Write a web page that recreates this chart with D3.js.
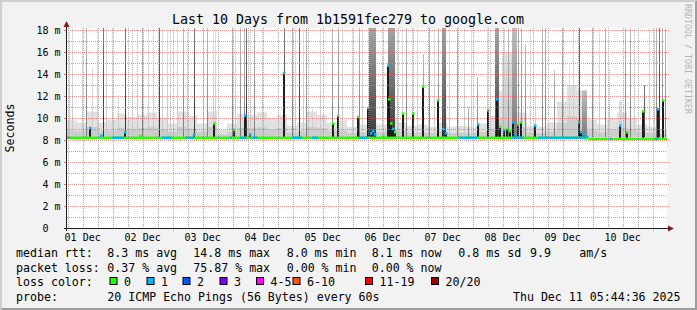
<!DOCTYPE html>
<html>
<head>
<meta charset="utf-8">
<script src="https://cdn.jsdelivr.net/npm/d3@7"></script>
<style>
body { margin: 0; background: #f2f2f2; }
svg { display: block; }
text { font-family: "DejaVu Sans Mono", monospace; fill: #000; }
</style>
</head>
<body>
<svg id="chart" width="697" height="310"></svg>
<script>
// all times are hours since the start of the graph (Dec 1 05:44:36)

// top of the light smoke haze, one value per 4 hour block (ms)
var hazeTop = [9.8, 9.6, 10.6, 9.6, 9.8, 10.4, 10.1, 10.3, 10.5, 10.0,
               9.5, 10.6, 10.2, 9.5, 10.6, 8.9, 9.5, 10.4, 10.3, 10.5,
               10.0, 10.3, 9.3, 9.6, 10.6, 10.3, 9.6, 9.8, 9.2, 9.4,
               9.6, 9.4, 10.0, 9.6, 9.3, 9.4, 9.2, 9.6, 9.2, 9.3,
               9.2, 9.5, 10.2, 12.5, 14.5, 10.5, 9.3, 9.2, 9.6, 11.5,
               13.0, 12.5, 9.8, 9.4, 10.0, 10.5, 10.0, 9.4, 9.2, 9.0];

// single smoke streaks: [hour, top ms, shade 1 light / 2 mid / 3 dark]
var smokeLines = [
  [0.7, 18.2, 1], [2.0, 18.2, 1], [5.9, 18.2, 1], [7.6, 18.2, 2], [10.0, 14.6, 1],
  [12.0, 18.2, 1], [14.2, 18.2, 3], [15.6, 18.2, 1], [18.0, 18.2, 1], [20.4, 12.0, 1],
  [23.2, 18.2, 3], [25.9, 18.2, 1], [27.9, 18.2, 1], [29.9, 18.2, 2], [32.4, 18.2, 1],
  [34.4, 18.2, 1], [36.6, 18.2, 3], [37.9, 18.2, 1], [39.9, 18.2, 1], [41.2, 18.2, 1],
  [44.0, 18.2, 1], [46.4, 18.2, 2], [48.0, 18.2, 1], [50.8, 18.2, 3], [54.4, 18.2, 1],
  [55.9, 18.2, 2], [58.5, 18.2, 1], [59.3, 18.2, 1], [66.0, 18.2, 2], [67.3, 18.2, 1],
  [69.3, 18.2, 2], [70.7, 18.2, 2], [71.7, 18.2, 3], [73.3, 18.2, 1], [74.7, 18.2, 2],
  [78.0, 18.2, 1], [86.7, 18.2, 3], [90.0, 18.2, 2], [91.3, 18.2, 1], [92.9, 18.2, 3],
  [94.3, 18.2, 1], [95.6, 18.2, 2], [98.0, 11.0, 1], [101.2, 18.2, 1], [105.9, 18.2, 2],
  [108.4, 18.2, 2], [110.0, 18.2, 1], [114.0, 18.2, 1], [116.7, 18.2, 2], [118.0, 18.2, 1],
  [126.0, 18.2, 1], [132.0, 18.2, 1], [134.0, 18.2, 1], [135.6, 18.2, 2], [138.0, 18.2, 1],
  [140.0, 18.2, 1], [142.4, 15.8, 2], [144.7, 18.2, 2], [146.7, 18.2, 1], [148.4, 18.2, 2],
  [152.9, 18.2, 1], [156.0, 18.2, 2], [158.7, 18.2, 1], [160.4, 11.0, 2], [161.7, 18.2, 1],
  [164.0, 13.7, 2], [168.0, 18.2, 1], [169.3, 18.2, 1], [174.8, 18.2, 1], [176.4, 18.2, 2],
  [180.4, 18.2, 2], [181.6, 18.2, 2], [183.3, 16.7, 2], [185.3, 18.2, 1], [187.3, 13.0, 1],
  [190.0, 18.2, 2], [191.3, 18.2, 2], [194.7, 14.3, 2], [198.0, 18.2, 2], [200.7, 14.9, 1],
  [202.3, 18.2, 1], [204.7, 18.2, 3], [210.0, 18.2, 2], [212.7, 18.2, 1], [215.3, 18.2, 2],
  [216.7, 14.5, 1], [223.3, 18.2, 2], [225.3, 18.2, 2], [226.7, 18.2, 1], [230.7, 13.0, 3],
  [232.7, 18.2, 1], [234.7, 18.2, 1], [235.7, 18.2, 2], [236.7, 18.2, 3], [238.0, 18.2, 2],
  [239.1, 18.2, 2]
];

// wider smoke bands: [start hour, end hour, top ms, shade 1 light / 2 mid / 4 graded dark]
var smokeBands = [
  [120.7, 123.3, 18.2, 4], [128.4, 131.3, 18.2, 4], [150.0, 151.6, 18.2, 4],
  [171.3, 172.9, 18.2, 4], [174.0, 180.0, 16.0, 1], [178.0, 180.0, 18.2, 2],
  [206.0, 208.0, 12.5, 2], [220.7, 222.0, 11.6, 1]
];

// median rtt peaks: [hour, median ms, loss colour index]
var medianSpikes = [
  [9.2, 9.1, 1], [13.5, 8.4, 1], [23.2, 8.7, 1], [29.1, 8.35, 0], [50.8, 8.5, 1],
  [58.8, 9.5, 0], [66.7, 8.9, 0], [71.3, 10.2, 1], [73.2, 8.5, 1], [86.7, 14.1, 1],
  [106.3, 9.5, 0], [108.4, 10.2, 0], [116.4, 10.1, 0], [120.4, 10.9, 0], [121.4, 8.6, 1],
  [122.4, 8.8, 1], [123.2, 8.5, 1], [126.3, 8.3, 0], [128.4, 14.75, 1], [128.9, 11.7, 0],
  [129.6, 9.5, 0], [130.4, 9.0, 1], [131.2, 8.7, 0], [134.3, 10.4, 0], [138.3, 10.4, 0],
  [142.4, 12.85, 0], [148.4, 11.6, 0], [150.6, 9.0, 1], [151.4, 8.6, 1], [156.4, 8.3, 0],
  [164.4, 9.4, 1], [168.4, 10.7, 0], [172.0, 11.7, 1], [173.2, 9.2, 0], [174.8, 8.9, 1],
  [176.0, 9.0, 0], [177.2, 8.8, 0], [178.4, 9.6, 1], [179.2, 8.5, 1], [180.4, 9.4, 0],
  [181.6, 9.6, 0], [187.1, 9.3, 1], [204.7, 9.6, 1], [205.6, 8.7, 1], [206.8, 8.5, 1],
  [208.0, 8.3, 1], [221.3, 9.3, 1], [224.0, 8.7, 0], [230.3, 10.6, 0], [236.4, 10.8, 1],
  [238.4, 11.6, 0]
];

// resting median level: [from hour, ms]
var medianBase = [[0, 8.2], [208.6, 8.1]];

// stretches of the median line with 1 lost ping: [start hour, end hour, loss index]
var lossSegments = [
  [0.4, 1.2, 1], [18.0, 22.8, 1], [38.0, 42.0, 1], [47.2, 50.8, 1], [65.2, 66.0, 1],
  [69.2, 71.6, 1], [74.0, 76.4, 1], [90.0, 94.0, 1], [98.0, 100.4, 1], [116.8, 120.0, 1],
  [156.4, 164.0, 1], [178.0, 182.8, 1], [188.4, 207.6, 1], [217.2, 218.0, 1], [235.2, 236.4, 1]
];

var lossColors = ["#26ff00", "#00b8ff", "#0059ff", "#7e00ff", "#ff00ff", "#ff5500", "#ff0000", "#a10000"];
var lossLabels = ["0", "1", "2", "3", "4-5", "6-10", "11-19", "20/20"];
var yTicks = [0, 2, 4, 6, 8, 10, 12, 14, 16, 18];

var legendRtt = ["median rtt:", "8.3 ms avg", "14.8 ms max", "8.0 ms min", "8.1 ms now", "0.8 ms sd", "9.9", "am/s"];
var legendLoss = ["packet loss:", "0.37 % avg", "75.87 % max", "0.00 % min", "0.00 % now"];

var W = 697, H = 310, L = 67, R = 667, T = 28, B = 228;
var start = new Date(Date.UTC(2025, 11, 1, 5, 44, 36));
var end = new Date(+start + 240 * 3600e3);
function at(h) { return new Date(+start + h * 3600e3); }
function baseAt(h) {
    var v = medianBase[0][1];
    medianBase.forEach(function(d) { if (h >= d[0]) v = d[1]; });
    return v;
}

var x = d3.scaleUtc().domain([start, end]).range([L, R]);
var y = d3.scaleLinear().domain([0, 200 / 11]).range([B, T]);

var svg = d3.select("#chart");

// background and 3d frame
svg.append("rect").attr("width", W).attr("height", H).attr("fill", "#f2f2f2");
svg.append("path").attr("d", "M0,0H697L695,2H2V308L0,310Z").attr("fill", "#cfcfcf");
svg.append("path").attr("d", "M697,0V310H0L2,308H695V2Z").attr("fill", "#9e9e9e");
svg.append("rect").attr("x", L).attr("y", T).attr("width", R - L).attr("height", B - T).attr("fill", "#fff");

var defs = svg.append("defs");
defs.append("clipPath").attr("id", "plot")
    .append("rect").attr("x", L).attr("y", T).attr("width", R - L).attr("height", B - T);

var shades = {
    1: ["#c6c6c6", "#e0e0e0"],
    2: ["#7c7c7c", "#bdbdbd"],
    3: ["#2e2e2e", "#7c7c7c"],
    4: ["#3a3a3a", "#a6a6a6"]
};
Object.keys(shades).forEach(function(k) {
    var g = defs.append("linearGradient").attr("id", "smoke" + k)
        .attr("x1", 0).attr("y1", 1).attr("x2", 0).attr("y2", 0);
    g.append("stop").attr("offset", 0).attr("stop-color", shades[k][0]);
    g.append("stop").attr("offset", 1).attr("stop-color", shades[k][1]);
});

var plot = svg.append("g").attr("clip-path", "url(#plot)");

// haze
var hazeData = hazeTop.map(function(v, i) { return {t: at(i * 4), v: v}; });
hazeData.push({t: end, v: hazeTop[hazeTop.length - 1]});
var y0 = y(8.25);
plot.append("path").datum(hazeData)
    .attr("d", d3.area().curve(d3.curveStepAfter).x(function(d) { return x(d.t); })
        .y0(y0).y1(function(d) { return y(d.v); }))
    .attr("fill", "#e1e1e1");
plot.append("path").datum(hazeData)
    .attr("d", d3.area().curve(d3.curveStepAfter).x(function(d) { return x(d.t); })
        .y0(y0).y1(function(d) { return y(8.25 + (d.v - 8.25) * 0.4); }))
    .attr("fill", "#cdcdcd");

// smoke bands and streaks
plot.selectAll(".band").data(smokeBands).enter().append("rect")
    .attr("x", function(d) { return Math.round(x(at(d[0]))); })
    .attr("width", function(d) { return Math.max(1, Math.round(x(at(d[1])) - x(at(d[0])))); })
    .attr("y", function(d) { return y(d[2]); })
    .attr("height", function(d) { return y0 - y(d[2]); })
    .attr("fill", function(d) { return "url(#smoke" + d[3] + ")"; });

plot.selectAll(".streak").data(smokeLines).enter().append("rect")
    .attr("x", function(d) { return Math.round(x(at(d[0]))); })
    .attr("width", 1)
    .attr("y", function(d) { return y(d[1]); })
    .attr("height", function(d) { return y0 - y(d[1]); })
    .attr("fill", function(d) { return "url(#smoke" + d[2] + ")"; });

// median columns
plot.selectAll(".col").data(medianSpikes).enter().append("rect")
    .attr("x", function(d) { return Math.round(x(at(d[0]))) - 1; })
    .attr("width", 2)
    .attr("y", function(d) { return y(d[1]); })
    .attr("height", function(d) { return y(baseAt(d[0])) - y(d[1]); })
    .attr("fill", "#1c1c1c");

// median line coloured by loss
medianBase.forEach(function(d, i) {
    var h1 = i < medianBase.length - 1 ? medianBase[i + 1][0] : 240;
    plot.append("rect")
        .attr("x", x(at(d[0]))).attr("width", x(at(h1)) - x(at(d[0])))
        .attr("y", y(d[1]) - 1.25).attr("height", 2.5)
        .attr("fill", lossColors[0]);
});
plot.selectAll(".seg").data(lossSegments).enter().append("rect")
    .attr("x", function(d) { return x(at(d[0])); })
    .attr("width", function(d) { return x(at(d[1])) - x(at(d[0])); })
    .attr("y", function(d) { return y(baseAt(d[0])) - 1.25; })
    .attr("height", 2.5)
    .attr("fill", function(d) { return lossColors[d[2]]; });
plot.selectAll(".cap").data(medianSpikes).enter().append("rect")
    .attr("x", function(d) { return Math.round(x(at(d[0]))) - 1; })
    .attr("width", 2.5)
    .attr("y", function(d) { return y(d[1]) - 1.25; })
    .attr("height", 2.5)
    .attr("fill", function(d) { return lossColors[d[2]]; });

// grid
var minorCol = "rgba(143,143,143,0.75)", majorCol = "rgba(222,79,79,0.6)";
var grid = svg.append("g").attr("shape-rendering", "crispEdges");
d3.range(1, 19).forEach(function(v) {
    var yy = Math.round(y(v)) + 0.5;
    var major = v % 2 === 0;
    grid.append("line").attr("x1", major ? L - 3 : L).attr("x2", major ? R + 3 : R)
        .attr("y1", yy).attr("y2", yy)
        .attr("stroke", major ? majorCol : minorCol).attr("stroke-dasharray", "1,1");
    if (major) {
        grid.append("line").attr("x1", L - 3).attr("x2", L).attr("y1", yy).attr("y2", yy)
            .attr("stroke", majorCol);
    }
});
d3.utcHour.every(6).range(start, end).forEach(function(t) {
    var xx = Math.round(x(t)) + 0.5;
    var major = t.getUTCHours() === 0 && t.getUTCDate() % 2 === 1;
    grid.append("line").attr("x1", xx).attr("x2", xx)
        .attr("y1", T).attr("y2", major ? B + 3 : B)
        .attr("stroke", major ? majorCol : minorCol).attr("stroke-dasharray", "1,1");
});

// axes
svg.append("line").attr("x1", L - 3).attr("x2", R + 3).attr("y1", B + 0.5).attr("y2", B + 0.5)
    .attr("stroke", "#1f1f1f");
svg.append("line").attr("x1", L - 0.5).attr("x2", L - 0.5).attr("y1", B + 3).attr("y2", T - 3)
    .attr("stroke", "#1f1f1f");
svg.append("path").attr("d", "M" + (R + 1) + "," + (B - 2.5) + "L" + (R + 7) + "," + (B + 0.5) + "L" + (R + 1) + "," + (B + 3.5) + "Z")
    .attr("fill", "#801f1f");
svg.append("path").attr("d", "M" + (L - 3.5) + "," + (T - 1) + "L" + (L - 0.5) + "," + (T - 7) + "L" + (L + 2.5) + "," + (T - 1) + "Z")
    .attr("fill", "#801f1f");

// tick labels
svg.selectAll(".ylab").data(yTicks).enter().append("text")
    .attr("x", function(d) { return d === 0 ? 48.5 : 60.5; })
    .attr("y", function(d) { return y(d) + 3.8; })
    .attr("text-anchor", "end").attr("font-size", "10px")
    .text(function(d) { return d === 0 ? "0" : d + " m"; });

var dayNoons = d3.utcDay.range(start, end).map(function(d) { return new Date(+d + 12 * 3600e3); })
    .filter(function(d) { return d < end; });
dayNoons.unshift(new Date(Date.UTC(2025, 11, 1, 12)));
svg.selectAll(".xlab").data(dayNoons).enter().append("text")
    .attr("x", function(d) { return x(d); })
    .attr("y", 240.5)
    .attr("text-anchor", "middle").attr("font-size", "10px")
    .text(d3.utcFormat("%d %b"));

// titles
svg.append("text").attr("x", 348).attr("y", 24).attr("text-anchor", "middle")
    .attr("font-size", "13.3px").text("Last 10 Days from 1b1591fec279 to google.com");
svg.append("text").attr("transform", "translate(14,128) rotate(-90)").attr("text-anchor", "middle")
    .attr("font-size", "11.6px").text("Seconds");
svg.append("text").attr("transform", "translate(685,4) rotate(90)")
    .attr("font-size", "8.3px").style("fill", "#b4b4b4").text("RRDTOOL / TOBI OETIKER");

// legend
var lg = svg.append("g").attr("font-size", "11.6px");
var rttX = [16, 107.3, 193.3, 286.7, 371.7, 458.3, 530, 579.3];
legendRtt.forEach(function(s, i) {
    lg.append("text").attr("x", rttX[i]).attr("y", 257).text(s);
});
legendLoss.forEach(function(s, i) {
    lg.append("text").attr("x", rttX[i]).attr("y", 271.5).text(s);
});
lg.append("text").attr("x", 16).attr("y", 286).text("loss color:");
var sqX = [109.5, 146.5, 182.5, 219.5, 256, 292.5, 365, 431];
lossLabels.forEach(function(s, i) {
    lg.append("rect").attr("x", sqX[i] + 0.5).attr("y", 277.5).attr("width", 7).attr("height", 7)
        .attr("fill", lossColors[i]).attr("stroke", "#000");
    lg.append("text").attr("x", sqX[i] + 14.5).attr("y", 286).text(s);
});
lg.append("text").attr("x", 16).attr("y", 300.5).text("probe:");
lg.append("text").attr("x", 107.3).attr("y", 300.5).text("20 ICMP Echo Pings (56 Bytes) every 60s");
lg.append("text").attr("x", 680.5).attr("y", 300.5).attr("text-anchor", "end").text("Thu Dec 11 05:44:36 2025");
</script>
</body>
</html>
